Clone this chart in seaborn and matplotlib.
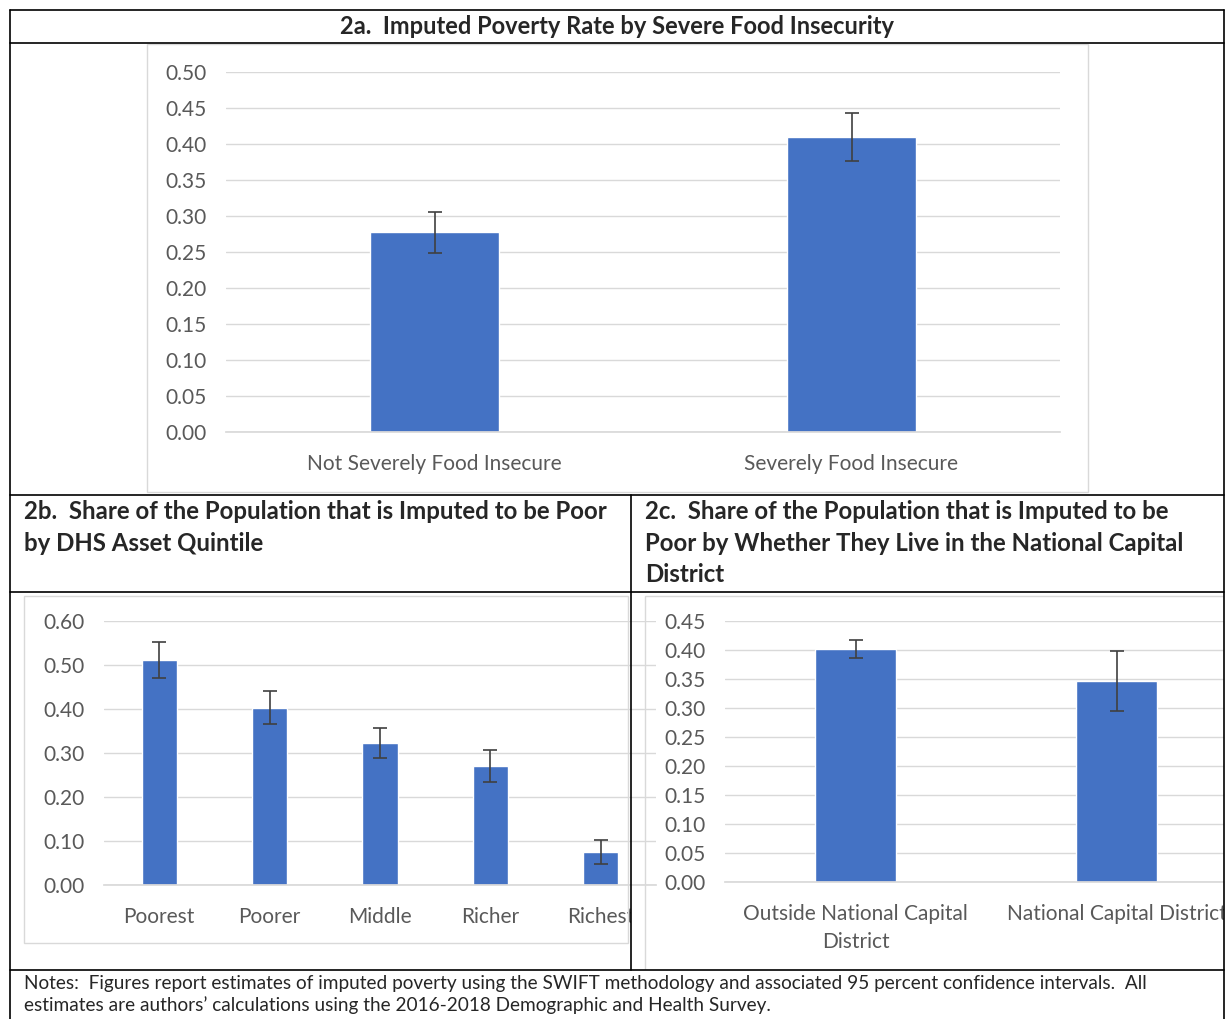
import numpy as np
import pandas as pd
import matplotlib
matplotlib.use("Agg")
import matplotlib.pyplot as plt
from matplotlib.transforms import Bbox, TransformedBbox
import seaborn as sns

# Data
cats_a = ["Not Severely Food Insecure", "Severely Food Insecure"]
rate_a = [0.278, 0.410]
lo_a = [0.249, 0.377]
hi_a = [0.306, 0.443]

cats_b = ["Poorest", "Poorer", "Middle", "Richer", "Richest"]
rate_b = [0.511, 0.403, 0.322, 0.270, 0.075]
lo_b = [0.470, 0.366, 0.288, 0.235, 0.048]
hi_b = [0.553, 0.440, 0.357, 0.306, 0.102]

cats_c = ["Outside National Capital\nDistrict", "National Capital District"]
rate_c = [0.402, 0.346]
lo_c = [0.387, 0.295]
hi_c = [0.417, 0.399]

sns.set_theme(style="white")
plt.rcParams["font.family"] = ["Lato", "DejaVu Sans"]

W, H = 1228, 1019
fig = plt.figure(figsize=(W / 100, H / 100), dpi=100)
BLUE = "#4472C4"
GRID = "#D9D9D9"
TXT = "#595959"


def rect(x0, y0, x1, y1):
    return [x0 / W, 1 - y1 / H, (x1 - x0) / W, (y1 - y0) / H]


def hline(y, x0, x1):
    fig.add_artist(plt.Line2D([x0 / W, x1 / W], [1 - y / H, 1 - y / H], color="black", lw=1.2, zorder=10))


def vline(x, y0, y1):
    fig.add_artist(plt.Line2D([x / W, x / W], [1 - y0 / H, 1 - y1 / H], color="black", lw=1.2, zorder=10))


def frame(x0, y0, x1, y1):
    fig.add_artist(plt.Rectangle((x0 / W, 1 - y1 / H), (x1 - x0) / W, (y1 - y0) / H,
                                 fill=False, ec=GRID, lw=1))


def panel(pos, cats, vals, lo, hi, ymax, step, width, clip_x=None):
    ax = fig.add_axes(pos)
    df = pd.DataFrame({"cat": cats, "val": vals})
    sns.barplot(data=df, x="cat", y="val", color=BLUE, width=width, saturation=1, ax=ax)
    x = np.arange(len(cats))
    v = np.array(vals)
    ax.errorbar(x, v, yerr=[v - np.array(lo), np.array(hi) - v], fmt="none",
                ecolor="#404040", elinewidth=1.2, capsize=5, capthick=1.2)
    ax.set_ylim(0, ymax)
    ticks = np.arange(0, ymax + 1e-9, step)
    ax.set_yticks(ticks)
    ax.set_yticklabels([f"{t:.2f}" for t in ticks])
    ax.yaxis.grid(True, color=GRID, lw=1)
    ax.set_axisbelow(True)
    for s in ax.spines.values():
        s.set_visible(False)
    ax.spines["bottom"].set_visible(True)
    ax.spines["bottom"].set_color(GRID)
    ax.tick_params(axis="both", length=0, labelsize=15, colors=TXT)
    ax.tick_params(axis="x", pad=16)
    ax.tick_params(axis="y", pad=14)
    for lab in ax.get_xticklabels():
        lab.set_linespacing(1.5)
    ax.set_xlabel("")
    ax.set_ylabel("")
    ax.set_xlim(-0.5, len(cats) - 0.5)
    if clip_x is not None:
        clip = TransformedBbox(Bbox([[0, 0], [clip_x / W, 1]]), fig.transFigure)
        for lab in ax.get_xticklabels():
            lab.set_clip_box(clip)
            lab.set_clip_on(True)
    return ax


# 2a
frame(147, 44, 1088, 492)
panel(rect(226, 72, 1060, 432), cats_a, rate_a, lo_a, hi_a, 0.5, 0.05, 0.31)
# 2b (right side clipped at cell border)
frame(24, 596, 628, 943)
panel(rect(104, 621, 656, 885), cats_b, rate_b, lo_b, hi_b, 0.6, 0.1, 0.32, clip_x=631)
# 2c
frame(645, 596, 1240, 985)
panel(rect(725, 621, 1247, 882), cats_c, rate_c, lo_c, hi_c, 0.45, 0.05, 0.31, clip_x=1224)

# white-out beyond right border and below the chart cells
fig.add_artist(plt.Rectangle((1224 / W, 0), 1, 1, color="white", zorder=9))
fig.add_artist(plt.Rectangle((0, 0), 1, 1 - 970 / H, color="white", zorder=9))

# table lines
hline(10, 10, 1224)
hline(43, 10, 1224)
hline(495, 10, 1224)
hline(592, 10, 1224)
hline(970, 10, 1224)
vline(10, 10, 1019)
vline(1224, 10, 1019)
vline(631, 495, 970)

# titles
fig.text(617 / W, 1 - 27 / H, "2a.  Imputed Poverty Rate by Severe Food Insecurity",
         ha="center", va="center", fontsize=17, fontweight="bold")
fig.text(24 / W, 1 - 500 / H, "2b.  Share of the Population that is Imputed to be Poor\nby DHS Asset Quintile",
         ha="left", va="top", fontsize=17.3, fontweight="bold", linespacing=1.45)
fig.text(645 / W, 1 - 500 / H, "2c.  Share of the Population that is Imputed to be\nPoor by Whether They Live in the National Capital\nDistrict",
         ha="left", va="top", fontsize=17.3, fontweight="bold", linespacing=1.45)
fig.text(24 / W, 1 - 975 / H,
         "Notes:  Figures report estimates of imputed poverty using the SWIFT methodology and associated 95 percent confidence intervals.  All\nestimates are authors\u2019 calculations using the 2016-2018 Demographic and Health Survey.",
         ha="left", va="top", fontsize=13.7, linespacing=1.3, zorder=11)

fig.savefig("out.png", dpi=100)
